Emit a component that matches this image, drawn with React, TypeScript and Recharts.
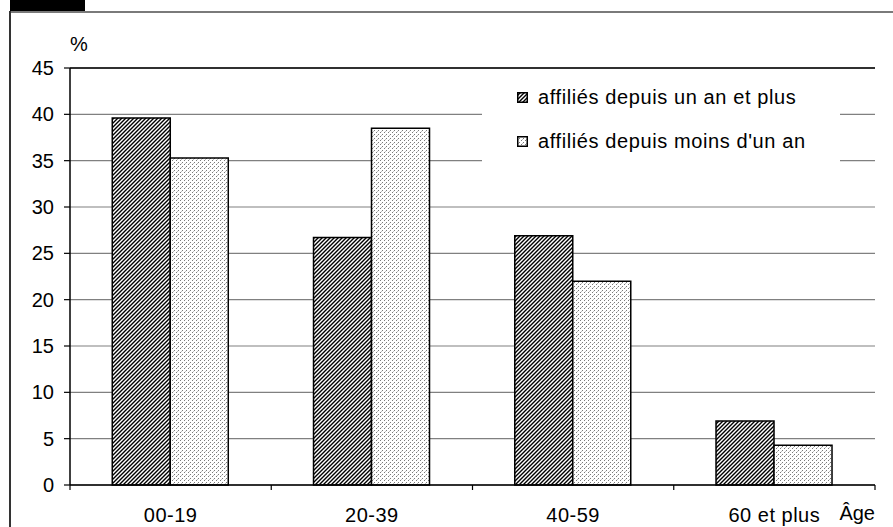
import { Bar, BarChart, CartesianGrid, ReferenceLine, XAxis, YAxis } from "recharts";

const ageGroups = ["00-19", "20-39", "40-59", "60 et plus"];
const affiliesPlusUnAn = [39.6, 26.7, 26.9, 6.9];
const affiliesMoinsUnAn = [35.3, 38.5, 22.0, 4.3];
const yTicks = [0, 5, 10, 15, 20, 25, 30, 35, 40, 45];

const seriesNames = ["affiliés depuis un an et plus", "affiliés depuis moins d'un an"];

const W = 893;
const H = 527;
const MARGIN = { top: 68, right: 18, left: 10, bottom: 12 };
const Y_AXIS_W = 60;
const PLOT_LEFT = MARGIN.left + Y_AXIS_W;
const PLOT_RIGHT = W - MARGIN.right;
const BAND = (PLOT_RIGHT - PLOT_LEFT) / ageGroups.length;

const FONT = "'Liberation Sans', Arial, sans-serif";

const data = ageGroups.map((age, i) => ({
  age,
  plus: affiliesPlusUnAn[i],
  moins: affiliesMoinsUnAn[i],
}));

function Patterns({ prefix }: { prefix: string }) {
  return (
    <defs>
      <pattern id={`${prefix}-hatch`} patternUnits="userSpaceOnUse" width="4" height="4">
        <rect width="4" height="4" fill="#fff" />
        <path d="M-1,1 l2,-2 M0,4 l4,-4 M3,5 l2,-2" stroke="#000" strokeWidth="1.4" />
      </pattern>
      <pattern id={`${prefix}-dots`} patternUnits="userSpaceOnUse" width="4" height="4">
        <rect width="4" height="4" fill="#fff" />
        <rect x="0" y="0" width="1" height="1" fill="#7a7a7a" />
        <rect x="2" y="2" width="1" height="1" fill="#7a7a7a" />
        <rect x="1" y="3" width="1" height="1" fill="#c0c0c0" />
      </pattern>
    </defs>
  );
}

// biome-ignore lint/suspicious/noExplicitAny: recharts tick props are runtime-shaped.
function AgeTick({ x, y, payload, index }: any) {
  const half = BAND / 2;
  return (
    <g>
      {index === 0 && (
        <line x1={x - half} x2={x - half} y1={y} y2={y + 5} stroke="#000" strokeWidth={1.2} />
      )}
      <line x1={x + half} x2={x + half} y1={y} y2={y + 5} stroke="#000" strokeWidth={1.2} />
      <text
        x={x}
        y={y + 37}
        textAnchor="middle"
        fontSize={20}
        letterSpacing={0.5}
        fill="#000"
        fontFamily={FONT}
      >
        {payload.value}
      </text>
    </g>
  );
}

function LegendBox() {
  const fills = ["url(#lg-hatch)", "url(#lg-dots)"];
  return (
    <div
      style={{
        position: "absolute",
        left: 482,
        top: 78,
        width: 358,
        height: 88,
        background: "#fff",
        fontFamily: FONT,
      }}
    >
      {seriesNames.map((name, i) => (
        <div
          key={name}
          style={{
            position: "absolute",
            left: 35,
            top: 8 + i * 44,
            display: "flex",
            alignItems: "center",
            gap: 10,
            fontSize: 20,
            letterSpacing: 0.6,
            color: "#000",
            whiteSpace: "nowrap",
          }}
        >
          <svg width={11} height={11}>
            <Patterns prefix="lg" />
            <rect x={0.75} y={0.75} width={9.5} height={9.5} fill={fills[i]} stroke="#000" strokeWidth={1.5} />
          </svg>
          <span>{name}</span>
        </div>
      ))}
    </div>
  );
}

export default function App() {
  return (
    <div style={{ position: "absolute", left: 0, top: 0, width: W, height: H, background: "#fff" }}>
      <div style={{ position: "absolute", left: 10, top: 0, width: 75, height: 11, background: "#000" }} />
      <div style={{ position: "absolute", left: 10, top: 11, width: W - 10, height: 2, background: "#7a7a7a" }} />
      <div style={{ position: "absolute", left: 9, top: 11, width: 1.5, height: H - 11, background: "#333" }} />
      <div style={{ position: "absolute", left: 0, top: 0 }}>
        <BarChart
          width={W}
          height={H}
          data={data}
          margin={MARGIN}
          barCategoryGap="21%"
          barGap={0}
          style={{ fontFamily: FONT }}
        >
          <Patterns prefix="bar" />
          <CartesianGrid vertical={false} stroke="#808080" strokeWidth={1.2} />
          <XAxis
            dataKey="age"
            axisLine={{ stroke: "#000", strokeWidth: 1.5 }}
            tickLine={false}
            tickSize={0}
            tickMargin={0}
            height={30}
            interval={0}
            tick={<AgeTick />}
            label={{
              // biome-ignore lint/suspicious/noExplicitAny: label viewBox is runtime-shaped.
              content: ({ viewBox }: any) => (
                <text
                  x={viewBox.x + viewBox.width}
                  y={viewBox.y + 35}
                  textAnchor="end"
                  fontSize={20}
                  fill="#000"
                  fontFamily={FONT}
                >
                  Âge
                </text>
              ),
            }}
          />
          <YAxis
            domain={[0, 45]}
            ticks={yTicks}
            width={Y_AXIS_W}
            axisLine={{ stroke: "#000", strokeWidth: 1.5 }}
            tickLine={{ stroke: "#000", strokeWidth: 1.2 }}
            tickSize={6}
            tickMargin={10}
            tick={{ fill: "#000", fontSize: 20, fontFamily: FONT }}
            label={{
              // biome-ignore lint/suspicious/noExplicitAny: label viewBox is runtime-shaped.
              content: ({ viewBox }: any) => (
                <text
                  x={viewBox.x + viewBox.width}
                  y={viewBox.y - 17}
                  textAnchor="start"
                  fontSize={20}
                  fill="#000"
                  fontFamily={FONT}
                >
                  %
                </text>
              ),
            }}
          />
          <YAxis
            yAxisId="right"
            orientation="right"
            width={0}
            domain={[0, 45]}
            tick={false}
            tickLine={false}
            axisLine={{ stroke: "#000", strokeWidth: 1.2 }}
          />
          <ReferenceLine y={45} stroke="#000" strokeWidth={1.5} />
          <Bar
            dataKey="plus"
            name={seriesNames[0]}
            fill="url(#bar-hatch)"
            stroke="#000"
            strokeWidth={1.5}
            isAnimationActive={false}
          />
          <Bar
            dataKey="moins"
            name={seriesNames[1]}
            fill="url(#bar-dots)"
            stroke="#000"
            strokeWidth={1.5}
            isAnimationActive={false}
          />
        </BarChart>
      </div>
      <LegendBox />
    </div>
  );
}
